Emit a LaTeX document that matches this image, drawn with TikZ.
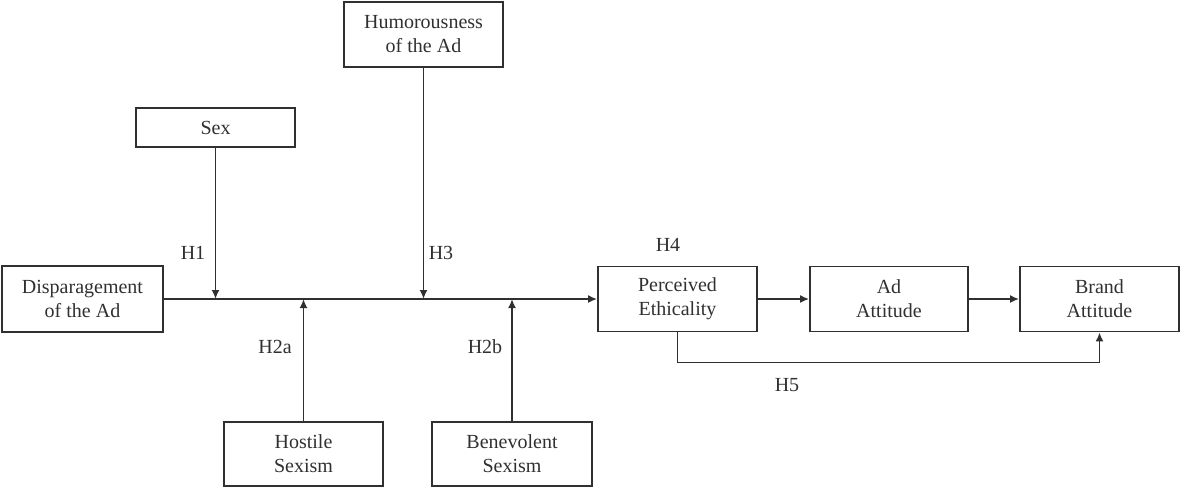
\documentclass[tikz,border=0pt]{standalone}
\usepackage{fontspec}
\setmainfont{Liberation Serif}
\usetikzlibrary{arrows.meta}
\definecolor{ink}{HTML}{303030}
\tikzset{
  box/.style={draw=ink, line width=0.9pt, text=ink, inner sep=0pt, align=center,
    font=\fontsize{10}{12}\selectfont},
  conn/.style={draw=ink, line width=0.9pt},
  arr/.style={conn, -{Latex[length=4.5pt,width=4pt]}},
  lab/.style={text=ink, inner sep=0pt, font=\fontsize{10}{12}\selectfont}
}
\begin{document}
\begin{tikzpicture}[x=0.5pt,y=-0.5pt]
\useasboundingbox (0,0) rectangle (1182,488);
% boxes
\node[box, minimum width=79.5pt, minimum height=32.5pt] (hum) at (423.5,34.5) {Humorousness\\of the Ad};
\node[box, minimum width=79.5pt, minimum height=19.5pt] (sex) at (215.5,127.5) {Sex};
\node[box, minimum width=80.5pt, minimum height=33pt] (dis) at (82.5,299) {Disparagement\\of the Ad};
\node[box, minimum width=79.5pt, minimum height=32pt] (host) at (303.5,454) {Hostile\\Sexism};
\node[box, minimum width=80pt, minimum height=32pt] (bene) at (512,454) {Benevolent\\Sexism};
\node[box, minimum width=79.5pt, minimum height=32.5pt] (perc) at (677.5,299) {Perceived\\Ethicality};
\node[box, minimum width=79pt, minimum height=32.5pt] (ad) at (889,299) {Ad\\Attitude};
\node[box, minimum width=79.5pt, minimum height=32.5pt] (brand) at (1099.5,299) {Brand\\Attitude};
% junction points on the main line
\coordinate (j1) at (sex.south |- dis.east);
\coordinate (j2) at (host.north |- dis.east);
\coordinate (j3) at (hum.south |- dis.east);
\coordinate (j4) at (bene.north |- dis.east);
\coordinate (h5a) at ([yshift=-15pt]perc.south);
\coordinate (h5b) at (h5a -| brand.south);
% connectors
\draw[arr] (dis.east) -- (perc.west);
\draw[arr] (sex.south) -- (j1);
\draw[arr] (hum.south) -- (j3);
\draw[arr] (host.north) -- (j2);
\draw[arr] (bene.north) -- (j4);
\draw[arr] (perc.east) -- (ad.west);
\draw[arr] (ad.east) -- (brand.west);
\draw[arr] (perc.south) -- (h5a) -- (h5b) -- (brand.south);
% labels
\node[lab] (l1) at (193,253) {H1};
\node[lab] (l3) at (441,253) {H3};
\node[lab] (l2a) at (275,347) {H2a};
\node[lab] (l2b) at (485,347) {H2b};
\node[lab] (l4) at (668,245) {H4};
\node[lab] (l5) at (787,385) {H5};
\end{tikzpicture}
\end{document}
